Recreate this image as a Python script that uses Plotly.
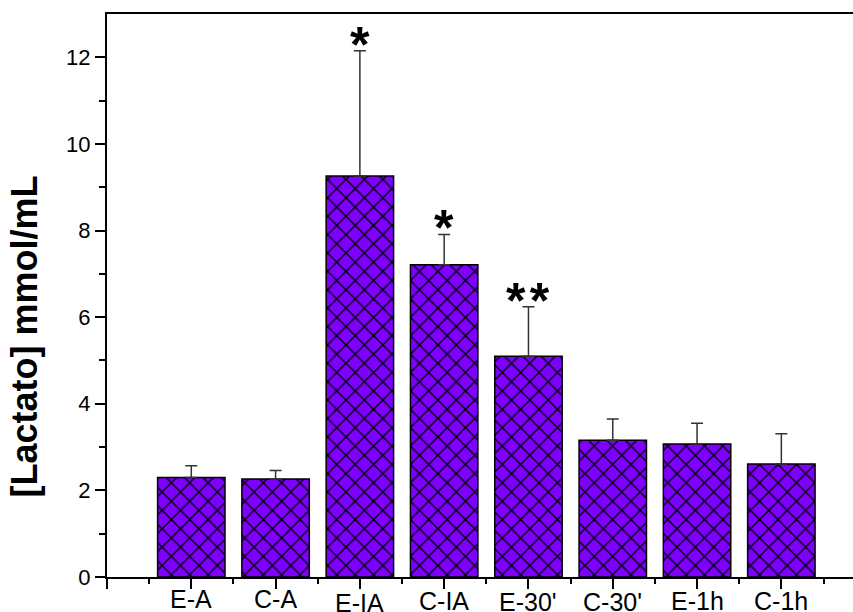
import plotly.graph_objects as go

categories = ["E-A", "C-A", "E-IA", "C-IA", "E-30'", "C-30'", "E-1h", "C-1h"]
means = [2.30, 2.26, 9.26, 7.21, 5.10, 3.16, 3.07, 2.61]
sem = [0.27, 0.20, 2.89, 0.70, 1.14, 0.49, 0.48, 0.70]
significance = ["", "", "*", "*", "*\u200a*", "", "", ""]
y_ticks = [0, 2, 4, 6, 8, 10, 12]

label_shift = [0, 0, -4, -2, -3, -3, -2, -2]

FONT = "Liberation Sans, Arial, sans-serif"
PURPLE = "#7F00FF"

xpos = list(range(1, len(categories) + 1))

fig = go.Figure()
fig.add_trace(go.Bar(
    x=xpos, y=means, width=0.8,
    marker=dict(
        color=PURPLE,
        line=dict(color="black", width=1.5),
        pattern=dict(shape="x", size=13, solidity=0.2, fgcolor="black",
                     bgcolor=PURPLE, fillmode="replace"),
    ),
    error_y=dict(type="data", symmetric=False, array=sem,
                 arrayminus=[0] * len(sem), color="#333333",
                 thickness=1.5, width=6),
    showlegend=False,
))

annotations = []
for i, (c, sh) in enumerate(zip(categories, label_shift)):
    annotations.append(dict(
        x=xpos[i], y=0, xref="x", yref="y", text=c, showarrow=False,
        yanchor="top", yshift=-6 + sh,
        font=dict(family=FONT, size=25, color="black"),
    ))
for i, s in enumerate(significance):
    if s:
        annotations.append(dict(
            x=xpos[i], y=means[i] + sem[i], xref="x", yref="y", text=s,
            showarrow=False, yanchor="bottom", yshift=-24,
            font=dict(family=FONT, size=50, color="black", weight="bold"),
        ))
annotations.append(dict(
    x=-0.11, y=0.427, xref="paper", yref="paper",
    text="<b>[Lactato] mmol/mL</b>", textangle=-90, showarrow=False,
    xanchor="center", yanchor="middle",
    font=dict(family=FONT, size=36, color="black"),
))

fig.update_layout(
    width=853, height=612,
    margin=dict(l=107, r=0, t=14, b=35),
    paper_bgcolor="white", plot_bgcolor="white",
    annotations=annotations,
    xaxis=dict(
        range=[0, 8.85], tickmode="array", tickvals=list(range(0, 9)),
        showticklabels=False, ticks="outside", ticklen=10, tickwidth=2,
        tickcolor="black", showline=True, linewidth=2, linecolor="black",
        mirror=True, showgrid=False, zeroline=False,
        minor=dict(tickmode="array", tickvals=[k + 0.5 for k in range(9)],
                   ticks="outside", ticklen=5, tickwidth=2, tickcolor="black",
                   showgrid=False),
    ),
    yaxis=dict(
        range=[0, 13], tickmode="array", tickvals=y_ticks,
        ticktext=[str(v) for v in y_ticks],
        ticks="outside", ticklen=10, tickwidth=2, tickcolor="black",
        showline=True, linewidth=2, linecolor="black", showgrid=False,
        zeroline=False,
        tickfont=dict(family=FONT, size=22, color="black"),
        minor=dict(tickmode="array", tickvals=[1, 3, 5, 7, 9, 11],
                   ticks="outside", ticklen=6, tickwidth=2, tickcolor="black",
                   showgrid=False),
    ),
)

fig.write_html("out.html", config={"displayModeBar": False},
               post_script="document.body.style.margin='0';document.body.style.overflow='hidden';")
